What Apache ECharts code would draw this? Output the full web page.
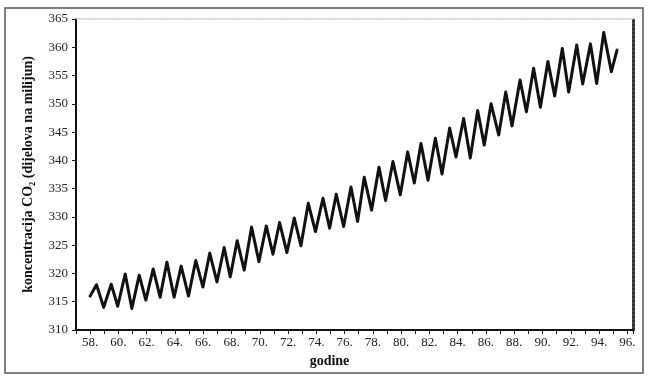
<!DOCTYPE html>
<html>
<head>
<meta charset="utf-8">
<script src="https://cdn.jsdelivr.net/npm/echarts@6/dist/echarts.min.js"></script>
<style>
html,body{margin:0;padding:0;background:#fff;}
#chart{width:651px;height:381px;}
</style>
</head>
<body>
<div id="chart"></div>
<script>
// Decimal years (19xx) of the zigzag's vertices
const years = [58.0, 58.45, 58.96, 59.49, 59.95, 60.48, 60.95, 61.47, 61.94, 62.46, 62.95,
  63.43, 63.94, 64.44, 64.96, 65.47, 65.98, 66.46, 66.97, 67.48, 67.91, 68.40, 68.90,
  69.42, 69.94, 70.46, 70.93, 71.40, 71.92, 72.44, 72.91, 73.43, 73.94, 74.47, 74.94,
  75.41, 75.93, 76.45, 76.92, 77.39, 77.91, 78.43, 78.90, 79.42, 79.94, 80.46, 80.93,
  81.40, 81.90, 82.42, 82.89, 83.43, 83.88, 84.42, 84.89, 85.41, 85.88, 86.36, 86.90,
  87.40, 87.84, 88.41, 88.86, 89.37, 89.85, 90.38, 90.86, 91.40, 91.85, 92.42, 92.84,
  93.39, 93.83, 94.33, 94.87, 95.27];
// CO2 concentration (ppm) at those vertices
const co2 = [316.0, 318.0, 314.0, 318.1, 314.2, 319.9, 313.8, 319.7, 315.3, 320.8, 315.8,
  322.0, 315.8, 321.3, 316.0, 322.3, 317.6, 323.6, 318.5, 324.6, 319.4, 325.8, 320.6,
  328.2, 322.1, 328.4, 323.4, 329.0, 323.7, 329.8, 324.9, 332.4, 327.4, 333.3, 328.0,
  334.0, 328.3, 335.3, 329.2, 337.0, 331.2, 338.8, 332.9, 339.8, 333.9, 341.5, 336.0,
  343.0, 336.5, 343.9, 337.6, 345.7, 340.6, 347.4, 340.4, 348.8, 342.7, 350.0, 344.5,
  352.1, 346.1, 354.2, 348.6, 356.3, 349.4, 357.5, 351.4, 359.8, 352.1, 360.4, 353.5,
  360.6, 353.6, 362.6, 355.7, 359.5];
// Tick labels shown on the x axis
const xTickLabels = [58, 60, 62, 64, 66, 68, 70, 72, 74, 76, 78, 80, 82, 84, 86, 88, 90, 92, 94, 96];
const yTitle = 'koncentracija CO\u2082 (dijelova na milijun)';
const xTitle = 'godine';

const serif = '"Liberation Serif", "DejaVu Serif", serif';
const chart = echarts.init(document.getElementById('chart'));
const xMin = 57, xMax = 96.4;
chart.setOption({
  animation: false,
  backgroundColor: '#fff',
  graphic: [{
    type: 'rect', shape: {x: 5, y: 8, width: 638, height: 365},
    style: {fill: 'none', stroke: '#555', lineWidth: 1.5}, silent: true
  }],
  grid: {left: 76, right: 18, top: 19, bottom: 51},
  xAxis: [{
    type: 'value', min: xMin, max: xMax, interval: 1,
    axisLine: {lineStyle: {color: '#111', width: 2}},
    axisTick: {show: true, length: 4, lineStyle: {color: '#111', width: 1}},
    splitLine: {show: false},
    axisLabel: {
      color: '#222', fontFamily: serif, fontSize: 13, margin: 6,
      showMinLabel: true, showMaxLabel: true,
      formatter: v => xTickLabels.indexOf(Math.round(v * 100) / 100) >= 0 ? v + '.' : ''
    },
    name: xTitle, nameLocation: 'middle', nameGap: 21,
    nameTextStyle: {fontFamily: serif, fontWeight: 'bold', fontSize: 14, color: '#111', padding: [0, 50, 0, 0]}
  }, {
    type: 'value', min: xMin, max: xMax, position: 'top',
    axisLine: {lineStyle: {color: '#ccc', width: 1.5, type: 'dotted'}},
    axisTick: {show: false}, axisLabel: {show: false}, splitLine: {show: false}
  }],
  yAxis: [{
    type: 'value', min: 310, max: 365, interval: 5,
    axisLine: {show: true, lineStyle: {color: '#111', width: 2}},
    axisTick: {show: true, length: 4, lineStyle: {color: '#111', width: 1}},
    splitLine: {show: false},
    axisLabel: {color: '#222', fontFamily: serif, fontSize: 13, margin: 8},
    name: yTitle, nameLocation: 'middle', nameGap: 41,
    nameTextStyle: {fontFamily: serif, fontWeight: 'bold', fontSize: 14, color: '#111'}
  }, {
    type: 'value', min: 310, max: 365, position: 'right',
    axisLine: {show: true, lineStyle: {color: '#333', width: 3, type: [2, 2]}},
    axisTick: {show: false}, axisLabel: {show: false}, splitLine: {show: false}
  }],
  series: [{
    type: 'line',
    data: years.map((y, i) => [y, co2[i]]),
    showSymbol: false,
    lineStyle: {color: '#111', width: 3, join: 'round', cap: 'round'}
  }]
});
</script>
</body>
</html>
